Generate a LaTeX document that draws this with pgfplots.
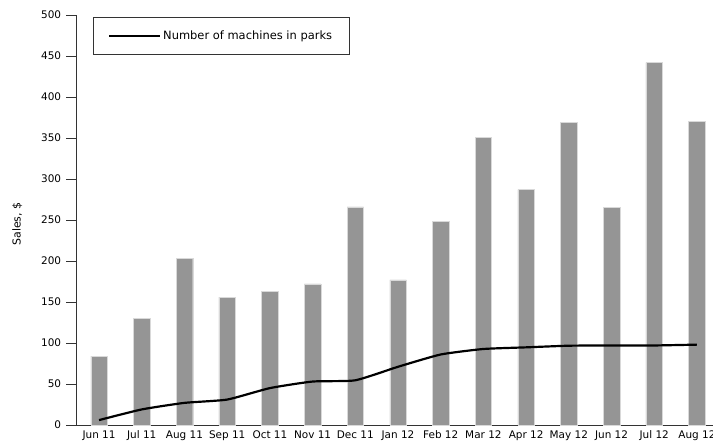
\documentclass[border=0pt]{standalone}
\usepackage{fontspec}
\setmainfont{DejaVu Sans}
\usepackage{pgfplots}
\pgfplotsset{compat=1.18}
\definecolor{bargray}{HTML}{959595}
\begin{document}
\fontsize{11}{13}\selectfont
\begin{tikzpicture}
\begin{axis}[
  scale only axis,
  width=644bp, height=410bp,
  xmin=-0.54, xmax=14.54,
  ymin=0, ymax=500,
  ytick={0,50,...,500},
  xtick={0,...,14},
  xticklabels={Jun 11,Jul 11,Aug 11,Sep 11,Oct 11,Nov 11,Dec 11,Jan 12,Feb 12,Mar 12,Apr 12,May 12,Jun 12,Jul 12,Aug 12},
  axis x line*=bottom,
  axis y line*=left,
  x axis line style={-},
  y axis line style={-},
  axis line style={line width=0.8pt, black!80},
  major x tick style={draw=none},
  major y tick style={line width=0.8pt, black!80},
  tick align=outside,
  major tick length=10bp,
  yticklabel style={font=\fontsize{10.5}{12}\selectfont, xshift=-1bp},
  xticklabel style={font=\fontsize{10.5}{12}\selectfont, text height=7.5bp, text depth=2bp, yshift=8bp},
  /pgf/number format/assume math mode=true,
  ylabel={Sales, \$},
  ylabel style={font=\fontsize{9}{11}\selectfont},
  every axis y label/.style={at={(axis description cs:-0.091,0.49)}, rotate=90, anchor=center},
  legend style={at={(axis description cs:0.026,0.995)}, anchor=north west,
    draw=black!80, line width=0.6pt, inner xsep=15bp, inner ysep=11.5bp,
    font=\fontsize{11.5}{13}\selectfont, cells={anchor=west}},
  legend image code/.code={\draw[line width=2.2pt, black] (0bp,0bp) -- (51bp,0bp);},
  clip=false,
]
\addplot[ybar, bar width=16.5bp, fill=bargray, draw=black!15, line width=0.4pt, forget plot]
  coordinates {(0,84) (1,130) (2,203) (3,156) (4,163) (5,172) (6,266) (7,177) (8,248) (9,351) (10,287) (11,369) (12,265) (13,442) (14,370)};
\addplot[black, line width=2.2pt, smooth, tension=0.3]
  coordinates {(0,6) (1,19) (2,27) (3,31) (4,45) (5,53) (6,54.5) (7,71) (8,86) (9,92.7) (10,94.7) (11,96.7) (12,97) (13,97) (14,98)};
\addlegendentry{Number of machines in parks}
\coordinate (sw) at (rel axis cs:0,0);
\end{axis}
\pgfresetboundingbox
\path[use as bounding box] (sw) ++(-76bp,-21bp) rectangle ++(713bp,446bp);
\end{tikzpicture}
\end{document}
